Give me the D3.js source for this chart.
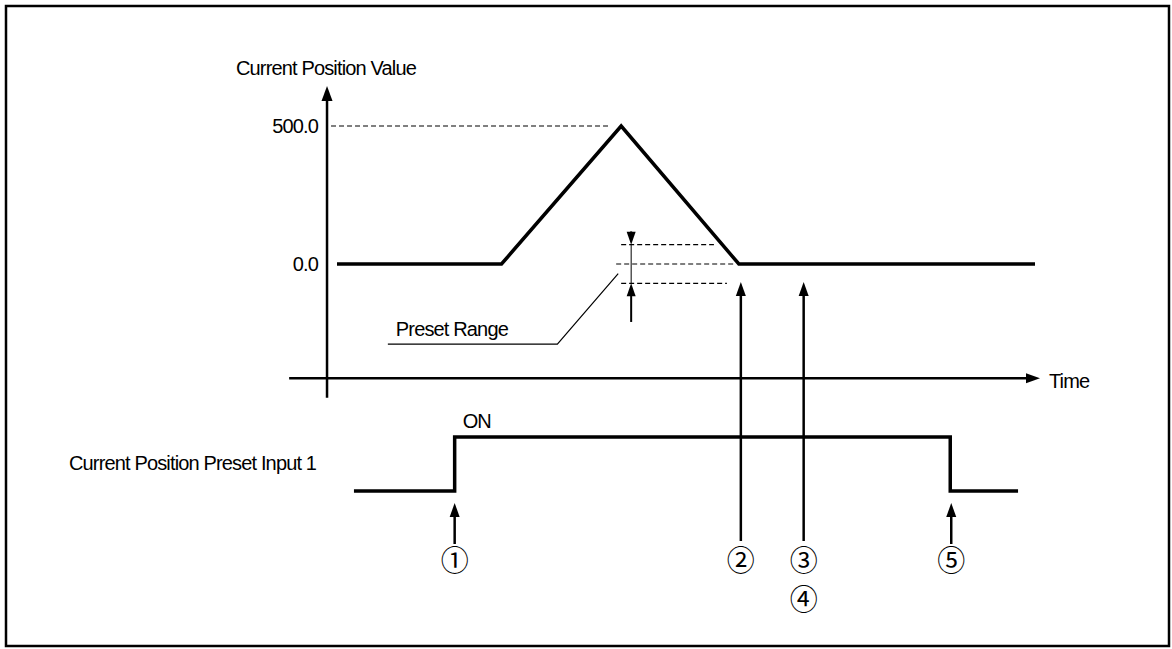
<!DOCTYPE html>
<html><head><meta charset="utf-8">
<script src="https://cdn.jsdelivr.net/npm/d3@7"></script>
<style>body{margin:0;background:#fff}svg{display:block}text{font-family:"Liberation Sans",Arial,sans-serif;fill:#000}</style>
</head><body><svg id="c" width="1172" height="649"></svg>
<script>
// ---- data ----
const posTimes = [0, 165, 285, 403, 700];
const posValues = [0, 0, 500, 0, 0];
const inputTimes = [17, 118, 118, 615, 615, 683];
const inputValues = [0, 0, 1, 1, 0, 0];
const yTickValues = [500, 0];
const yTickLabels = ["500.0", "0.0"];
const presetRange = [70, -70];
const eventTimes = [118, 405, 468, 616];
const eventLabels = ["①", "②", "③", "⑤"];
const extraLabel = {time: 468, text: "④"};
const yAxisLabel = "Current Position Value";
const xAxisLabel = "Time";
const inputLabel = "Current Position Preset Input 1";
const onLabel = "ON";
const presetLabel = "Preset Range";

const FS = 20, LS = -0.85;
const svg = d3.select("#c");
const x = d3.scaleLinear().domain([0, 700]).range([337, 1035]);
const y = d3.scaleLinear().domain([0, 500]).range([264, 126]);
const ys = d3.scaleLinear().domain([0, 1]).range([491, 437]);
const DASH = "5,3", DW = 1.2;

// border
svg.append("rect").attr("x", 6).attr("y", 6).attr("width", 1163).attr("height", 640)
  .attr("fill", "none").attr("stroke", "#000").attr("stroke-width", 2.5);

function arrowHead(tx, ty, dir, w, h) {
  let pts;
  if (dir === "up") pts = [[tx, ty], [tx - w / 2, ty + h], [tx + w / 2, ty + h]];
  else if (dir === "down") pts = [[tx, ty], [tx - w / 2, ty - h], [tx + w / 2, ty - h]];
  else pts = [[tx, ty], [tx - h, ty - w / 2], [tx - h, ty + w / 2]];
  svg.append("path").attr("d", d3.line()(pts) + "Z").attr("fill", "#000");
}
function label(px, py, txt, anchor) {
  return svg.append("text").attr("x", px).attr("y", py).attr("font-size", FS)
    .attr("letter-spacing", LS).attr("text-anchor", anchor || "start").text(txt);
}

// axes
const x0 = x(-10), yAxisTop = y(645), yAxisBot = y(-485), xAxisY = y(-414);
svg.append("line").attr("x1", x0).attr("x2", x0).attr("y1", yAxisTop + 12).attr("y2", yAxisBot)
  .attr("stroke", "#000").attr("stroke-width", 2.5);
arrowHead(x0, yAxisTop, "up", 11, 15);
svg.append("line").attr("x1", x(-48)).attr("x2", x(693)).attr("y1", xAxisY).attr("y2", xAxisY)
  .attr("stroke", "#000").attr("stroke-width", 2.5);
arrowHead(x(705), xAxisY, "right", 10, 14);

// tick labels + dashed guide for 500
svg.selectAll(".yt").data(yTickValues).enter().append("text")
  .attr("x", x0 - 9).attr("y", d => y(d)).attr("dy", "0.36em").attr("text-anchor", "end")
  .attr("font-size", FS).attr("letter-spacing", LS).text((d, i) => yTickLabels[i]);
svg.append("line").attr("x1", x0 + 4).attr("x2", x(272)).attr("y1", y(500)).attr("y2", y(500))
  .attr("stroke", "#000").attr("stroke-width", DW).attr("stroke-dasharray", DASH);

// axis labels
label(236, 75, yAxisLabel);
label(x(714), xAxisY + 10, xAxisLabel);

// preset range dashed lines
const pX = x(295);
svg.append("line").attr("x1", pX - 10).attr("x2", x(378)).attr("y1", y(presetRange[0])).attr("y2", y(presetRange[0]))
  .attr("stroke", "#000").attr("stroke-width", DW).attr("stroke-dasharray", DASH);
svg.append("line").attr("x1", pX - 15).attr("x2", x(400)).attr("y1", y(0)).attr("y2", y(0))
  .attr("stroke", "#000").attr("stroke-width", DW).attr("stroke-dasharray", DASH);
svg.append("line").attr("x1", pX - 10).attr("x2", x(391)).attr("y1", y(presetRange[1])).attr("y2", y(presetRange[1]))
  .attr("stroke", "#000").attr("stroke-width", DW).attr("stroke-dasharray", DASH);
// preset arrows
svg.append("line").attr("x1", pX).attr("x2", pX).attr("y1", y(presetRange[0])).attr("y2", y(presetRange[1]))
  .attr("stroke", "#000").attr("stroke-width", 1);
svg.append("line").attr("x1", pX).attr("x2", pX).attr("y1", y(118)).attr("y2", y(presetRange[0]) - 10)
  .attr("stroke", "#000").attr("stroke-width", 2);
arrowHead(pX, y(presetRange[0]), "down", 9, 13);
svg.append("line").attr("x1", pX).attr("x2", pX).attr("y1", y(-210)).attr("y2", y(presetRange[1]) + 10)
  .attr("stroke", "#000").attr("stroke-width", 2);
arrowHead(pX, y(presetRange[1]), "up", 9, 13);
// leader
svg.append("path").attr("d", d3.line()([[x(282), y(-35)], [x(221), y(-290)], [x(51), y(-290)]]))
  .attr("fill", "none").attr("stroke", "#000").attr("stroke-width", 1.2);
label(x(59), y(-261), presetLabel);

// position curve
svg.append("path").datum(posTimes.map((t, i) => [t, posValues[i]]))
  .attr("d", d3.line().x(d => x(d[0])).y(d => y(d[1])))
  .attr("fill", "none").attr("stroke", "#000").attr("stroke-width", 3.5).attr("stroke-linejoin", "miter");

// input signal
svg.append("path").datum(inputTimes.map((t, i) => [t, inputValues[i]]))
  .attr("d", d3.line().x(d => x(d[0])).y(d => ys(d[1])))
  .attr("fill", "none").attr("stroke", "#000").attr("stroke-width", 3.5);
label(x(126), ys(1) - 9, onLabel);
label(69, 470, inputLabel);

// event arrows
const arrowBot = 541;
const circFont = "'Noto Sans CJK JP','DejaVu Sans',sans-serif";
eventTimes.forEach((t, i) => {
  const long = (i === 1 || i === 2);
  const tipY = long ? y(0) + 18 : ys(0) + 12;
  const botY = long ? arrowBot : 544;
  svg.append("line").attr("x1", x(t)).attr("x2", x(t)).attr("y1", tipY + 10).attr("y2", botY)
    .attr("stroke", "#000").attr("stroke-width", 2.5);
  arrowHead(x(t), tipY, "up", 10, 14);
  svg.append("text").attr("x", x(t)).attr("y", 561).attr("dy", "0.35em").attr("text-anchor", "middle")
    .attr("font-size", 28).style("font-family", circFont).text(eventLabels[i]);
});
svg.append("text").attr("x", x(extraLabel.time)).attr("y", 600).attr("dy", "0.35em").attr("text-anchor", "middle")
  .attr("font-size", 28).style("font-family", circFont).text(extraLabel.text);
</script></body></html>
